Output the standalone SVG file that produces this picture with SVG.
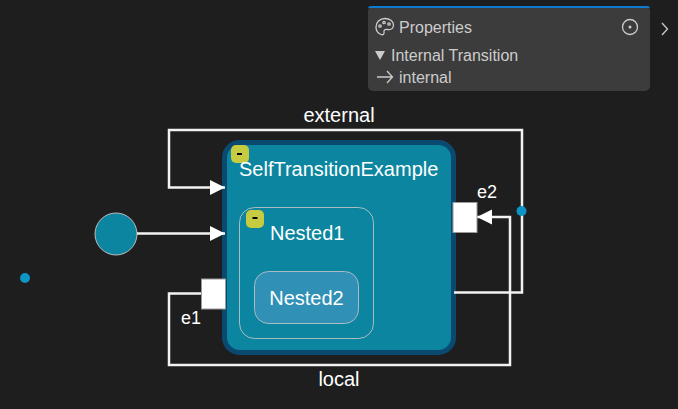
<svg xmlns="http://www.w3.org/2000/svg" width="678" height="409" viewBox="0 0 678 409">
<style>
text{font-family:"Liberation Sans",Arial,sans-serif;fill:#fff}
.c{fill:none;stroke:#f2f2f2;stroke-width:2.500}
.p{fill:#fff;stroke:#999;stroke-width:1}
.t{font-size:20px}
.l{font-size:18px}
.e{font-size:20px}
.g{fill:#c6cb3f}
.m{fill:#000}
.pt{fill:#ccc}
.dot{fill:#0e94c4}
</style>
<defs>
<marker id="a" markerUnits="userSpaceOnUse" markerWidth="16" markerHeight="16" refX="15" refY="7.500" orient="auto">
<path d="M0 0L15 7.500L0 15Z" fill="#fff"/>
</marker>
</defs>
<rect width="678" height="409" fill="#1e1e1e"/>
<g id="state-main">
<rect x="224.500" y="142.500" width="229" height="210" rx="15" fill="#0c86a0" stroke="#0b4a70" stroke-width="5"/>
<rect x="231" y="145" width="18" height="18" rx="5" class="g"/>
<rect x="237" y="153" width="5" height="2" class="m"/>
<text x="239" y="176" class="t">SelfTransitionExample</text>
</g>
<g id="nested1">
<rect x="239.500" y="207.500" width="134" height="131" rx="15" fill="#0c86a0" stroke="#a9bcc0"/>
<rect x="246" y="210" width="18" height="18" rx="5" class="g"/>
<rect x="252.500" y="217" width="5" height="2" class="m"/>
<text x="270" y="240" class="t">Nested1</text>
</g>
<g id="nested2">
<rect x="254.500" y="271.500" width="104" height="52" rx="14" fill="#3090b5" stroke="#a9bcc0"/>
<text x="306.500" y="305" class="t" text-anchor="middle">Nested2</text>
</g>
<g id="initial">
<circle cx="116" cy="234" r="21" fill="#0c86a0" stroke="#bbb"/>
</g>
<g id="connectors">
<path class="c" d="M137 233.500H225" marker-end="url(#a)"/>
<path class="c" d="M454 292.500H522V130H169V187.500H225" marker-end="url(#a)"/>
<path class="c" d="M202 293.500H169V365H510V217H477" marker-end="url(#a)"/>
</g>
<g id="e1">
<rect x="201.500" y="279" width="24" height="30" class="p"/>
<text x="181" y="324" class="l">e1</text>
</g>
<g id="e2">
<rect x="453" y="202.500" width="24" height="30" class="p"/>
<text x="477" y="198" class="l">e2</text>
</g>
<g id="label-external"><text x="339" y="122" class="e" text-anchor="middle" font-size="20">external</text></g>
<g id="label-local"><text x="339" y="386" class="e" text-anchor="middle" font-size="20">local</text></g>
<g id="dot-right"><circle cx="521.500" cy="211" r="5" class="dot"/></g>
<g id="dot-left"><circle cx="25" cy="278" r="5" class="dot"/></g>
<g id="properties">
<rect x="368" y="6" width="282" height="85" rx="5" fill="#3c3c3c"/>
<path d="M368 9a3 3 0 0 1 3-3H647a3 3 0 0 1 3 3V8H368Z" fill="#0e7ad0"/>
<g fill="none" stroke="#ccc" stroke-width="1.300">
<path d="M385 18.500c-5.500 0-9 4-9 8.500 0 3.500 2.500 6.500 5 7.500 2 .8 3.500-.5 3-2.500-.5-2.500 2-3 4-2.500 3.500.7 5.500-1.500 5.500-4.500 0-4-4-6.500-8.500-6.500Z"/>
<circle cx="380" cy="26" r="1.200"/><circle cx="384" cy="22.500" r="1.200"/><circle cx="389" cy="24" r="1.200"/>
<circle cx="630" cy="27" r="7.500"/>
<path d="M377 77H392M387 71L392.500 77L387 83"/>
<path d="M662 23L667.500 29L662 35"/>
</g>
<circle cx="630" cy="27" r="1.500" fill="#ccc"/>
<path d="M375 51H385L380 60Z" fill="#ccc"/>
<text x="399" y="33" font-size="16" class="pt">Properties</text>
<text x="391" y="61" font-size="16" class="pt">Internal Transition</text>
<text x="399" y="83" font-size="16" class="pt">internal</text>
</g>
</svg>
